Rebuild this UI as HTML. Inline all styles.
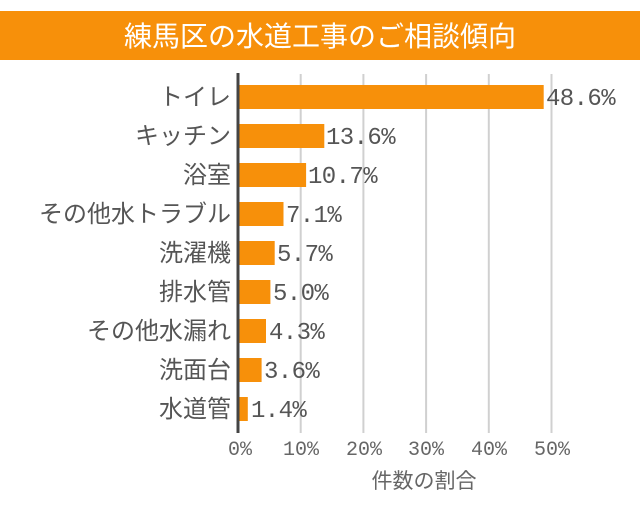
<!DOCTYPE html>
<html><head><meta charset="utf-8"><style>
body{margin:0;width:640px;height:500px;background:#fff;overflow:hidden;font-family:"Liberation Sans","Noto Sans CJK JP",sans-serif}
</style></head><body>
<svg width="640" height="500" xmlns="http://www.w3.org/2000/svg" font-family="Noto Sans CJK JP, sans-serif">
<rect x="0" y="11" width="640" height="49" fill="#f7900a"/>
<text x="320" y="46" text-anchor="middle" font-size="28" fill="#fff">練馬区の水道工事のご相談傾向</text>
<g stroke="#d0d0d0" stroke-width="2">
<line x1="300.7" y1="74" x2="300.7" y2="433"/>
<line x1="363.4" y1="74" x2="363.4" y2="433"/>
<line x1="426.1" y1="74" x2="426.1" y2="433"/>
<line x1="488.8" y1="74" x2="488.8" y2="433"/>
<line x1="551.5" y1="74" x2="551.5" y2="433"/>
</g>
<g fill="#f7900a">
<rect x="239" y="85" width="304.7" height="24"/>
<rect x="239" y="124" width="85.3" height="24"/>
<rect x="239" y="163" width="67.1" height="24"/>
<rect x="239" y="202" width="44.5" height="24"/>
<rect x="239" y="241" width="35.7" height="24"/>
<rect x="239" y="280" width="31.4" height="24"/>
<rect x="239" y="319" width="27" height="24"/>
<rect x="239" y="358" width="22.6" height="24"/>
<rect x="239" y="397" width="8.8" height="24"/>
</g>
<line x1="238" y1="73" x2="238" y2="433" stroke="#444" stroke-width="3"/>
<g font-size="24" fill="#555" text-anchor="end">
<text x="231" y="105">トイレ</text>
<text x="231" y="144">キッチン</text>
<text x="231" y="183">浴室</text>
<text x="231" y="222">その他水トラブル</text>
<text x="231" y="261">洗濯機</text>
<text x="231" y="300">排水管</text>
<text x="231" y="339">その他水漏れ</text>
<text x="231" y="378">洗面台</text>
<text x="231" y="417">水道管</text>
</g>
<g font-size="24" fill="#555" font-family="Liberation Mono, monospace" letter-spacing="-0.6">
<text x="546" y="105">48.6%</text>
<text x="326" y="144">13.6%</text>
<text x="308" y="183">10.7%</text>
<text x="286" y="222">7.1%</text>
<text x="277" y="261">5.7%</text>
<text x="273" y="300">5.0%</text>
<text x="269" y="339">4.3%</text>
<text x="264" y="378">3.6%</text>
<text x="251" y="417">1.4%</text>
</g>
<g font-size="20" fill="#666" text-anchor="middle" font-family="Liberation Mono, monospace">
<text x="240" y="455">0%</text>
<text x="301" y="455">10%</text>
<text x="364" y="455">20%</text>
<text x="426" y="455">30%</text>
<text x="489" y="455">40%</text>
<text x="552" y="455">50%</text>
</g>
<text x="424" y="488" font-size="21" fill="#666" text-anchor="middle">件数の割合</text>
</svg>
</body></html>
